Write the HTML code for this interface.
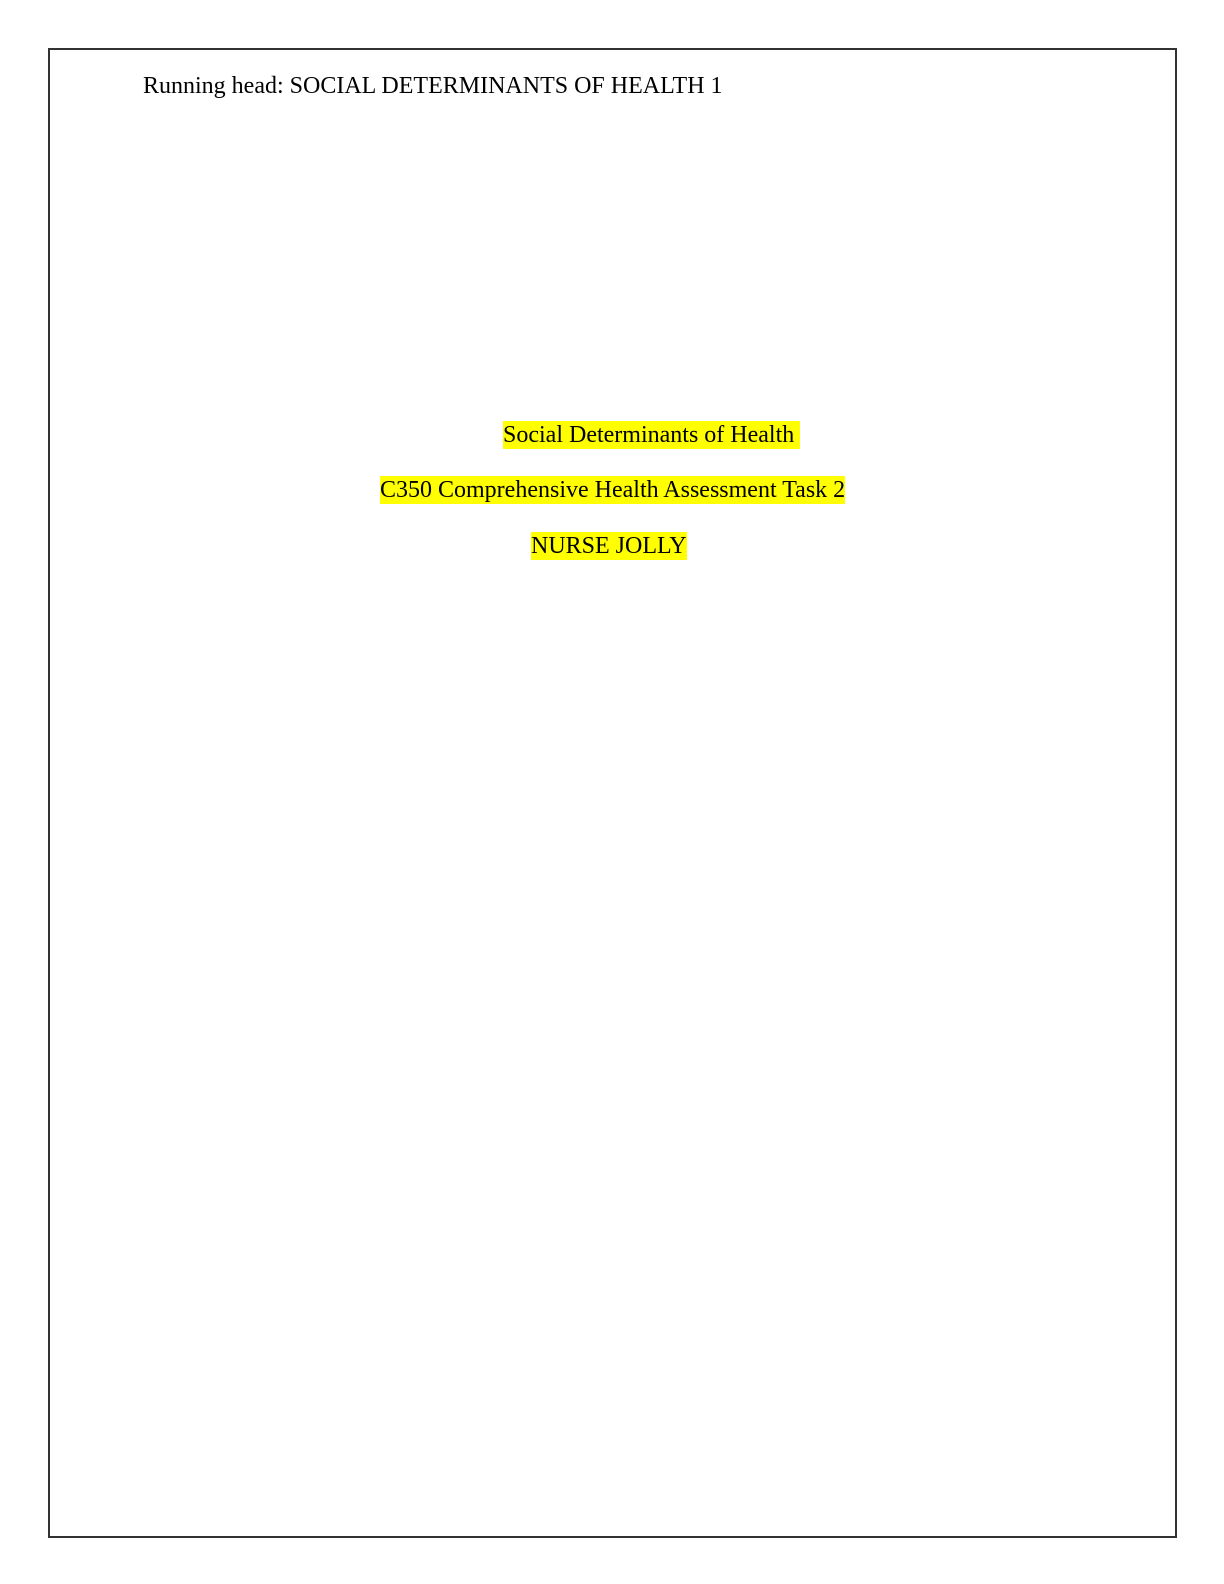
<!DOCTYPE html>
<html><head><style>
html,body{margin:0;padding:0;background:#fff;}
body{width:1224px;height:1584px;position:relative;overflow:hidden;font-family:"Liberation Serif",serif;color:#000;}
.frame{position:absolute;left:48px;top:48px;width:1125px;height:1486px;border:2px solid #333;}
.t{position:absolute;font-size:24px;line-height:28px;white-space:pre;}
.h{background:#ffff00;}
</style></head><body>
<div class="frame"></div>
<div class="t" style="left:143px;top:72px;">Running head: SOCIAL DETERMINANTS OF HEALTH 1</div>
<div class="t h" style="left:503px;top:421px;">Social Determinants of Health </div>
<div class="t h" style="left:380px;top:476px;">C350 Comprehensive Health Assessment Task 2</div>
<div class="t h" style="left:531px;top:532px;">NURSE JOLLY</div>
</body></html>
